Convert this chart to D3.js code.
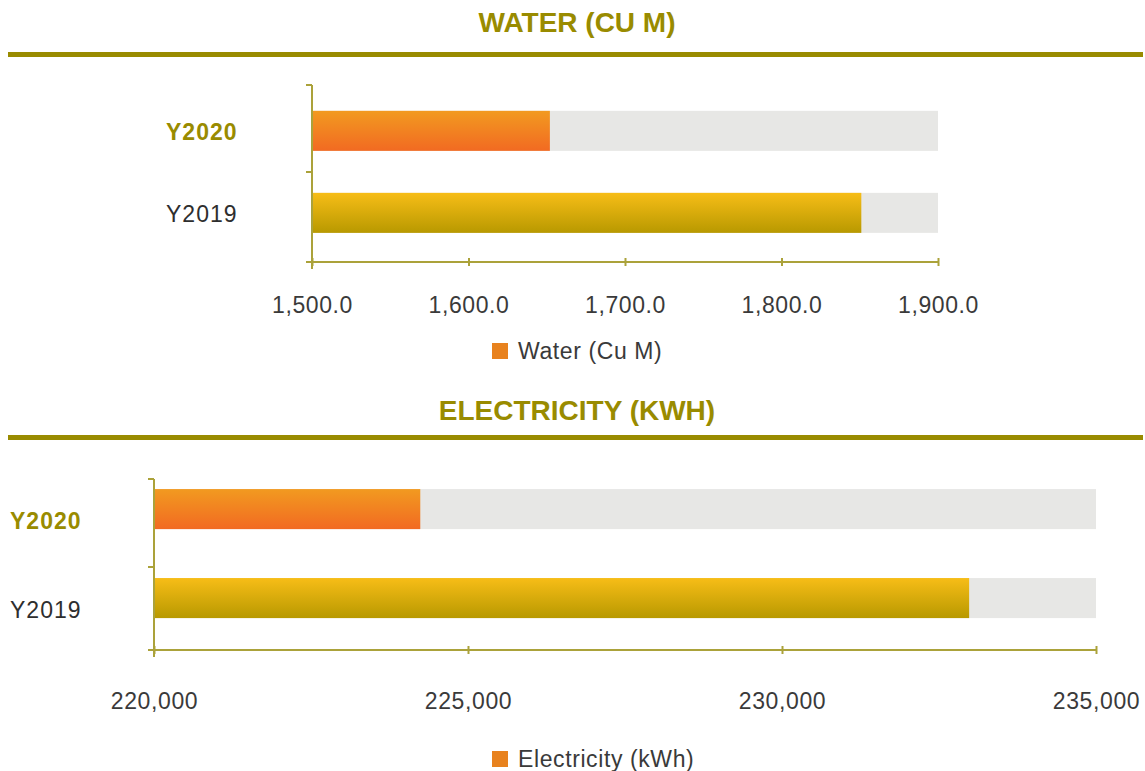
<!DOCTYPE html>
<html>
<head>
<meta charset="utf-8">
<script src="https://cdn.jsdelivr.net/npm/d3@7"></script>
<style>
  body { margin: 0; background: #fff; }
  svg { display: block; font-family: "Liberation Sans", Arial, sans-serif; }
</style>
</head>
<body>
<div id="chart"></div>
<script>
// data
const years = ["Y2020", "Y2019"];
const waterValues = [1652, 1851];
const electricityValues = [224240, 232980];
const waterTicks = [1500, 1600, 1700, 1800, 1900];
const electricityTicks = [220000, 225000, 230000, 235000];

const width = 1145, height = 771;
const olive = "#998b00";
const axisColor = "#aba23a";

const svg = d3.select("#chart").append("svg")
    .attr("width", width)
    .attr("height", height);

// gradients for the bars
const defs = svg.append("defs");
function addGradient(id, top, bottom) {
    const g = defs.append("linearGradient")
        .attr("id", id)
        .attr("x1", 0).attr("y1", 0).attr("x2", 0).attr("y2", 1);
    g.append("stop").attr("offset", "0%").attr("stop-color", top);
    g.append("stop").attr("offset", "100%").attr("stop-color", bottom);
}
addGradient("gOrange", "#f29a20", "#f26a22");
addGradient("gYellow", "#f7bd17", "#b89900");

// draw one panel
function drawPanel(opt) {
    const g = svg.append("g");

    // title + rule
    g.append("text")
        .attr("x", 577).attr("y", opt.titleY)
        .attr("text-anchor", "middle")
        .attr("font-weight", "bold")
        .attr("font-size", 28)
        .attr("fill", olive)
        .text(opt.title);
    g.append("rect")
        .attr("x", 8).attr("y", opt.ruleY)
        .attr("width", 1135).attr("height", 5)
        .attr("fill", olive);

    const x = d3.scaleLinear()
        .domain(opt.domain)
        .range([opt.x0, opt.x1]);
    const y = d3.scaleBand()
        .domain(years)
        .range([opt.yTop, opt.yBottom])
        .paddingInner(opt.padIn)
        .paddingOuter(opt.padOut)
        .align(opt.align);

    // grey background bars up to the domain max
    g.selectAll("rect.bg")
        .data(years)
        .enter().append("rect")
        .attr("x", x(opt.domain[0]))
        .attr("y", d => y(d))
        .attr("width", x(opt.domain[1]) - x(opt.domain[0]))
        .attr("height", y.bandwidth())
        .attr("fill", "#e7e7e5");

    g.selectAll("rect.val")
        .data(opt.values)
        .enter().append("rect")
        .attr("x", x(opt.domain[0]))
        .attr("y", (d, i) => y(years[i]))
        .attr("width", d => x(d) - x(opt.domain[0]))
        .attr("height", y.bandwidth())
        .attr("fill", (d, i) => i === 0 ? "url(#gOrange)" : "url(#gYellow)");

    // y axis line with ticks between categories
    const yAxis = g.append("g");
    yAxis.append("line")
        .attr("x1", opt.x0).attr("x2", opt.x0)
        .attr("y1", opt.yTop).attr("y2", opt.yBottom + 7)
        .attr("stroke", axisColor).attr("stroke-width", 2);
    [opt.yTop, opt.yMid, opt.yBottom].forEach(v => {
        yAxis.append("line")
            .attr("x1", opt.x0 - 6).attr("x2", opt.x0)
            .attr("y1", v).attr("y2", v)
            .attr("stroke", axisColor).attr("stroke-width", 2);
    });

    // x axis
    const xAxis = g.append("g")
        .attr("transform", `translate(0,${opt.yBottom})`)
        .call(d3.axisBottom(x)
            .tickValues(opt.ticks)
            .tickSize(0)
            .tickPadding(opt.tickPad)
            .tickFormat(opt.fmt));
    xAxis.select(".domain").remove();
    xAxis.append("line")
        .attr("x1", opt.x0 - 6).attr("x2", opt.x1)
        .attr("stroke", axisColor).attr("stroke-width", 2);
    xAxis.selectAll(".tick").append("line")
        .attr("y1", -4).attr("y2", 4)
        .attr("stroke", axisColor).attr("stroke-width", 2);
    xAxis.selectAll(".tick text")
        .attr("font-family", "'Liberation Sans', Arial, sans-serif")
        .attr("font-size", 23)
        .attr("letter-spacing", 0.6)
        .attr("fill", "#3a3a3a");

    // category labels
    g.selectAll("text.cat")
        .data(years)
        .enter().append("text")
        .attr("x", opt.labelX)
        .attr("y", d => y(d) + y.bandwidth() / 2 + opt.labelDy)
        .attr("font-size", 23)
        .attr("letter-spacing", 1)
        .attr("font-weight", (d, i) => i === 0 ? "bold" : "normal")
        .attr("fill", (d, i) => i === 0 ? olive : "#2e2e2e")
        .text(d => d);

    // legend
    g.append("rect")
        .attr("x", opt.legX).attr("y", opt.legY - 8)
        .attr("width", 16).attr("height", 16)
        .attr("fill", "#e8821e");
    g.append("text")
        .attr("x", opt.legX + 26).attr("y", opt.legY + 8)
        .attr("font-size", 23)
        .attr("letter-spacing", 0.6)
        .attr("fill", "#3a3a3a")
        .text(opt.legend);
}

drawPanel({
    title: "WATER (CU M)", titleY: 32, ruleY: 52,
    domain: [1500, 1900], ticks: waterTicks, values: waterValues,
    x0: 312, x1: 938, yTop: 85, yMid: 172, yBottom: 262,
    padIn: 0.512, padOut: 0.335, align: 0.47,
    labelX: 166, labelDy: 9, tickPad: 35,
    fmt: d3.format(",.1f"),
    legX: 492, legY: 351, legend: "Water (Cu M)"
});

drawPanel({
    title: "ELECTRICITY (KWH)", titleY: 420, ruleY: 435,
    domain: [220000, 235000], ticks: electricityTicks, values: electricityValues,
    x0: 154, x1: 1096, yTop: 479, yMid: 567, yBottom: 650,
    padIn: 0.55, padOut: 0.236, align: 0.24,
    labelX: 10, labelDy: 20, tickPad: 43,
    fmt: d3.format(","),
    legX: 492, legY: 759, legend: "Electricity (kWh)"
});
</script>
</body>
</html>
